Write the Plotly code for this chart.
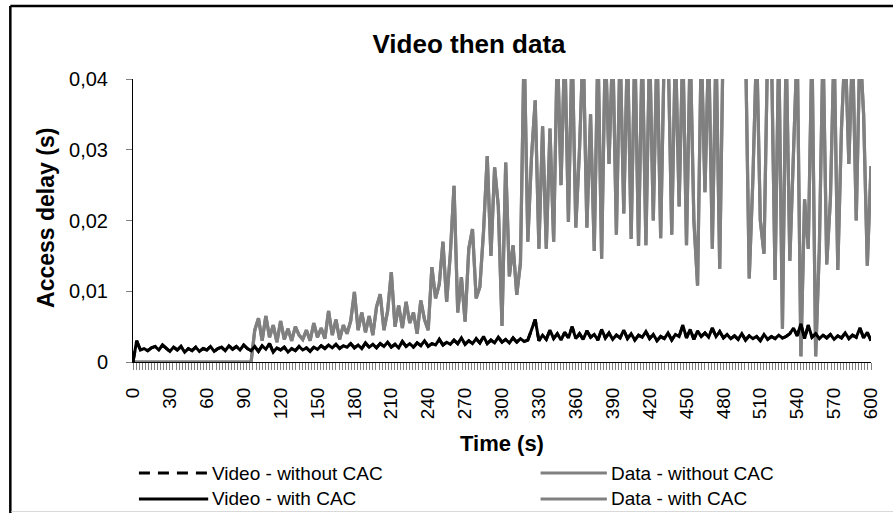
import plotly.graph_objects as go

# time axis, one sample every 3 s
TIME = list(range(0, 601, 3))

VIDEO_DELAY = [
    0.0000, 0.0030, 0.0017, 0.0019, 0.0016, 0.0020, 0.0022, 0.0017, 0.0024, 0.0020,
    0.0015, 0.0021, 0.0017, 0.0022, 0.0014, 0.0019, 0.0016, 0.0021, 0.0015, 0.0019,
    0.0017, 0.0022, 0.0015, 0.0019, 0.0021, 0.0016, 0.0023, 0.0018, 0.0022, 0.0017,
    0.0024, 0.0019, 0.0016, 0.0022, 0.0015, 0.0023, 0.0018, 0.0026, 0.0014, 0.0020,
    0.0017, 0.0021, 0.0014, 0.0019, 0.0016, 0.0022, 0.0017, 0.0020, 0.0015, 0.0021,
    0.0018, 0.0023, 0.0019, 0.0024, 0.0020, 0.0025, 0.0019, 0.0023, 0.0021, 0.0026,
    0.0020, 0.0024, 0.0019, 0.0027, 0.0021, 0.0025, 0.0020, 0.0026, 0.0022, 0.0028,
    0.0021, 0.0025, 0.0020, 0.0029, 0.0022, 0.0026, 0.0021, 0.0027, 0.0023, 0.0030,
    0.0022, 0.0026, 0.0024, 0.0032, 0.0024, 0.0028, 0.0025, 0.0031, 0.0026, 0.0034,
    0.0025, 0.0030, 0.0026, 0.0033, 0.0027, 0.0036, 0.0026, 0.0031, 0.0027, 0.0035,
    0.0028, 0.0032, 0.0027, 0.0034, 0.0028, 0.0033, 0.0029, 0.0031, 0.0045, 0.0060,
    0.0030, 0.0038, 0.0032, 0.0045, 0.0033, 0.0040, 0.0031, 0.0042, 0.0034, 0.0050,
    0.0033, 0.0040, 0.0032, 0.0044, 0.0035, 0.0039, 0.0031, 0.0046, 0.0034, 0.0041,
    0.0032, 0.0038, 0.0034, 0.0045, 0.0033, 0.0040, 0.0031, 0.0038, 0.0035, 0.0043,
    0.0033, 0.0039, 0.0030, 0.0036, 0.0033, 0.0041, 0.0031, 0.0039, 0.0036, 0.0052,
    0.0034, 0.0046, 0.0032, 0.0044, 0.0036, 0.0041, 0.0035, 0.0048, 0.0036, 0.0043,
    0.0034, 0.0039, 0.0033, 0.0037, 0.0032, 0.0040, 0.0031, 0.0037, 0.0033, 0.0036,
    0.0030, 0.0039, 0.0032, 0.0036, 0.0033, 0.0038, 0.0034, 0.0036, 0.0040, 0.0048,
    0.0037, 0.0054, 0.0033, 0.0052, 0.0035, 0.0040, 0.0033, 0.0038, 0.0034, 0.0039,
    0.0032, 0.0037, 0.0034, 0.0041, 0.0033, 0.0038, 0.0035, 0.0048, 0.0034, 0.0042,
    0.0030,
]

DATA_DELAY = [
    0, 0, 0, 0, 0, 0, 0, 0, 0, 0,
    0, 0, 0, 0, 0, 0, 0, 0, 0, 0,
    0, 0, 0, 0, 0, 0, 0, 0, 0, 0,
    0, 0, 0, 0.0045, 0.0062, 0.0030, 0.0065, 0.0035, 0.0052, 0.0028,
    0.0058, 0.0032, 0.0047, 0.0030, 0.0050, 0.0038, 0.0032, 0.0045, 0.0030, 0.0055,
    0.0035, 0.0048, 0.0033, 0.0072, 0.0038, 0.0060, 0.0032, 0.0052, 0.0040, 0.0058,
    0.0099, 0.0045, 0.0070, 0.0042, 0.0065, 0.0038, 0.0078, 0.0096, 0.0045, 0.0072,
    0.0127, 0.0050, 0.0080, 0.0048, 0.0085, 0.0055, 0.0070, 0.0040, 0.0087, 0.0060,
    0.0045, 0.0134, 0.0090, 0.0110, 0.0170, 0.0085, 0.0153, 0.0249, 0.0070, 0.0120,
    0.0057, 0.0160, 0.0188, 0.0090, 0.0106, 0.0185, 0.0291, 0.0150, 0.0275, 0.0220,
    0.0051, 0.0282, 0.0121, 0.0165, 0.0095, 0.0140, 0.0450, 0.0170, 0.0290, 0.0370,
    0.0160, 0.0333, 0.0160, 0.0330, 0.0170, 0.0450, 0.0250, 0.0450, 0.0198, 0.0450,
    0.0190, 0.0300, 0.0450, 0.0190, 0.0350, 0.0157, 0.0450, 0.0146, 0.0450, 0.0280,
    0.0450, 0.0180, 0.0450, 0.0210, 0.0450, 0.0174, 0.0450, 0.0164, 0.0450, 0.0165,
    0.0450, 0.0200, 0.0450, 0.0175, 0.0450, 0.0450, 0.0180, 0.0450, 0.0220, 0.0450,
    0.0165, 0.0450, 0.0200, 0.0108, 0.0450, 0.0240, 0.0450, 0.0160, 0.0450, 0.0132,
    0.0480, 0.0500, 0.0480, 0.0500, 0.0480, 0.0450, 0.0450, 0.0118, 0.0260, 0.0450,
    0.0200, 0.0153, 0.0450, 0.0450, 0.0116, 0.0450, 0.0047, 0.0450, 0.0143, 0.0300,
    0.0450, 0.0008, 0.0230, 0.0160, 0.0450, 0.0008, 0.0160, 0.0450, 0.0138, 0.0230,
    0.0450, 0.0130, 0.0330, 0.0450, 0.0280, 0.0450, 0.0200, 0.0450, 0.0350, 0.0136,
    0.0277,
]

X_TICKS = list(range(0, 601, 30))
Y_TICKS = [0, 0.01, 0.02, 0.03, 0.04]
Y_TICK_TEXT = ["0", "0,01", "0,02", "0,03", "0,04"]
SERIES_NAMES = ["Video - without CAC", "Data - without CAC", "Video - with CAC", "Data - with CAC"]

BLACK = "#000000"
GREY = "#808080"
FONT = "Liberation Sans, Arial, sans-serif"
DASH = "11px,8px"

# plot area in pixels
L, R, T, B = 133, 879, 79, 362
W, H = 893, 513


def px(x):
    return (x - L) / (R - L)


def py(y):
    return (B - y) / (B - T)


fig = go.Figure()
fig.add_trace(go.Scatter(x=TIME, y=DATA_DELAY, mode="lines", name=SERIES_NAMES[1],
                         line=dict(color=GREY, width=3.2)))
fig.add_trace(go.Scatter(x=TIME, y=DATA_DELAY, mode="lines", name=SERIES_NAMES[3],
                         line=dict(color=GREY, width=3.2)))
fig.add_trace(go.Scatter(x=TIME, y=VIDEO_DELAY, mode="lines", name=SERIES_NAMES[0],
                         line=dict(color=BLACK, width=3, dash=DASH)))
fig.add_trace(go.Scatter(x=TIME, y=VIDEO_DELAY, mode="lines", name=SERIES_NAMES[2],
                         line=dict(color=BLACK, width=3)))

fig.update_layout(
    width=W, height=H,
    paper_bgcolor="white", plot_bgcolor="white",
    font=dict(family=FONT, color=BLACK, size=20),
    margin=dict(l=L, r=W - R, t=T, b=H - B),
    showlegend=False,
    title=dict(text="<b>Video then data</b>", x=469 / W, xref="container", y=1 - 44 / H,
               yref="container", xanchor="center", yanchor="middle", font=dict(size=26)),
    xaxis=dict(
        range=[0, 600], tickvals=X_TICKS, tickangle=-90, showgrid=False, zeroline=False,
        ticks="outside", ticklen=7, tickcolor=GREY, tickwidth=1, ticklabelstandoff=10,
        showline=True, linecolor=BLACK, linewidth=1,
        minor=dict(dtick=2.5, ticks="outside", ticklen=7, tickcolor=GREY, tickwidth=1),
        tickfont=dict(size=19),
    ),
    yaxis=dict(
        range=[0, 0.04], tickvals=Y_TICKS, ticktext=Y_TICK_TEXT, showgrid=False, zeroline=False,
        ticks="outside", ticklen=6, tickcolor=GREY, showline=True, linecolor=BLACK, linewidth=1,
        ticklabelstandoff=14, tickfont=dict(size=20),
    ),
)

# axis titles
fig.add_annotation(text="<b>Access delay (s)</b>", textangle=-90, xref="paper", yref="paper",
                   x=px(45), y=py(218), xanchor="center", yanchor="middle",
                   showarrow=False, font=dict(size=23))
fig.add_annotation(text="<b>Time (s)</b>", xref="paper", yref="paper",
                   x=px(506), y=py(443), xanchor="center", yanchor="middle",
                   showarrow=False, font=dict(size=22))

# legend drawn by hand: two columns, two rows
legend_rows = [473, 499]
legend_cols = [(139, 209), (545, 612)]
legend_items = [
    (0, 0, BLACK, DASH),
    (1, 0, GREY, "solid"),
    (0, 1, BLACK, "solid"),
    (1, 1, GREY, "solid"),
]
for name, (col, row, color, dash) in zip(SERIES_NAMES, legend_items):
    x0, x1 = legend_cols[col]
    y = legend_rows[row]
    fig.add_shape(type="line", xref="paper", yref="paper", x0=px(x0), x1=px(x1),
                  y0=py(y), y1=py(y), line=dict(color=color, width=3, dash=dash))
    fig.add_annotation(text=name, xref="paper", yref="paper", x=px(x1 + 3), y=py(y),
                       xanchor="left", yanchor="middle", showarrow=False,
                       font=dict(size=19), borderpad=0)

# chart-area border (only top and left edges are inside the frame)
fig.add_shape(type="line", xref="paper", yref="paper", x0=px(9), x1=px(W + 20),
              y0=py(6), y1=py(6), line=dict(color=BLACK, width=2.5))
fig.add_shape(type="line", xref="paper", yref="paper", x0=px(9), x1=px(9),
              y0=py(6), y1=py(H + 20), line=dict(color=BLACK, width=2.5))
fig.add_shape(type="line", xref="paper", yref="paper", x0=px(10), x1=px(W + 20),
              y0=py(511.5), y1=py(511.5), line=dict(color="#d9d9d9", width=1))

# the page's default body margin would shift the figure by 8 px
fig.write_html("out.html", config={"displayModeBar": False},
               post_script="document.body.style.margin = '0';")
